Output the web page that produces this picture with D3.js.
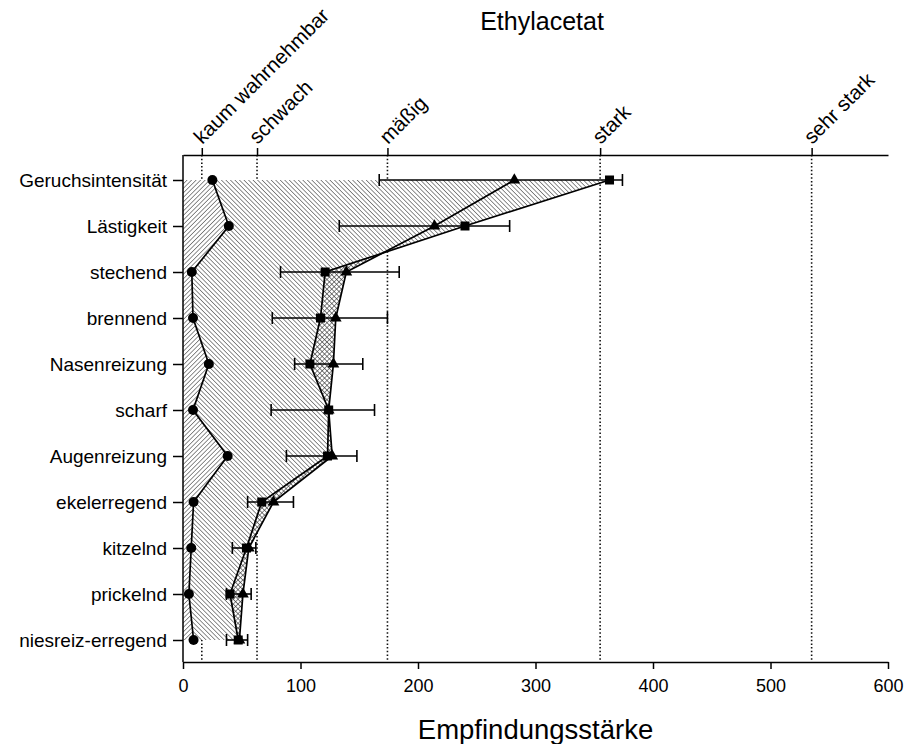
<!DOCTYPE html>
<html>
<head>
<meta charset="utf-8">
<script src="https://cdn.jsdelivr.net/npm/d3@7"></script>
<style>
  html, body { margin: 0; padding: 0; background: #fff; }
  svg { display: block; font-family: "Liberation Sans", Arial, Helvetica, sans-serif; }
</style>
</head>
<body>
<svg id="chart" width="906" height="744"></svg>
<script>
// ---- data ----
const categories = ["Geruchsintensität", "Lästigkeit", "stechend", "brennend", "Nasenreizung",
  "scharf", "Augenreizung", "ekelerregend", "kitzelnd", "prickelnd", "niesreiz-erregend"];
const circleSeries   = [25, 39, 7.5, 8.5, 22, 8.5, 38, 9, 7, 5, 9];
const squareSeries   = [363, 240, 121, 117, 108, 124, 123, 67, 54, 40, 47];
const triangleSeries = [282, 214, 139, 130, 128, 124, 127, 77, 56, 51, 48];
const errLow  = [167, 133, 83, 76, 95, 75, 88, 55, 42, 37, 37];
const errHigh = [374, 278, 184, 174, 153, 163, 148, 94, 62, 58, 55];
const refNames  = ["kaum wahrnehmbar", "schwach", "mäßig", "stark", "sehr stark"];
const refValues = [16, 63, 174, 355, 535];
const xTicks = [0, 100, 200, 300, 400, 500, 600];
const chartTitle = "Ethylacetat";
const xTitle = "Empfindungsstärke";

(function () {
// ---- layout ----
const svg = d3.select("#chart");
const pLeft = 183, pRight = 888, pTop = 155, pBottom = 662;
const x = d3.scaleLinear().domain([0, 600]).range([pLeft, pRight]);
const y = d3.scalePoint().domain(categories).range([180, 640]);

const rows = categories.map((c, i) => ({
  c, circ: circleSeries[i], sq: squareSeries[i], tri: triangleSeries[i],
  lo: errLow[i], hi: errHigh[i]
}));

// ---- patterns ----
const defs = svg.append("defs");
function hatch(id, angle, w, cross) {
  const p = defs.append("pattern").attr("id", id)
    .attr("patternUnits", "userSpaceOnUse")
    .attr("width", w).attr("height", w)
    .attr("patternTransform", `rotate(${angle})`);
  p.append("rect").attr("width", w).attr("height", w).attr("fill", "#fff");
  p.append("path").attr("d", cross ? `M0,0V${w}M0,0H${w}` : `M0,0V${w}`)
    .attr("stroke", "#333").attr("stroke-width", 1.1).attr("fill", "none");
}
hatch("hUp", 45, 3.2, false);
hatch("hDown", -45, 3.2, false);
hatch("hCross", 45, 3.4, true);

// ---- reference dotted lines ----
svg.append("g").selectAll("line").data(refValues).join("line")
  .attr("x1", d => x(d)).attr("x2", d => x(d))
  .attr("y1", pTop).attr("y2", pBottom)
  .attr("stroke", "#111").attr("stroke-width", 1.6)
  .attr("stroke-dasharray", "1.5,2.2");

// ---- areas ----
const areaA = d3.area().y(d => y(d.c)).x0(() => x(0)).x1(d => x(d.circ));
const areaB = d3.area().y(d => y(d.c)).x0(d => x(d.circ)).x1(d => x(d.sq));
const areaC = d3.area().y(d => y(d.c)).x0(d => x(d.sq)).x1(d => x(d.tri));
const clipArea = d3.area().y(d => y(d.c)).x0(d => x(d.sq)).x1(() => x(600));

defs.append("clipPath").attr("id", "rightOfSquare")
  .append("path").attr("d", clipArea(rows));

svg.append("path").attr("d", areaA(rows)).attr("fill", "url(#hUp)");
svg.append("path").attr("d", areaB(rows)).attr("fill", "url(#hDown)");
svg.append("path").attr("d", areaC(rows)).attr("fill", "url(#hCross)")
  .attr("clip-path", "url(#rightOfSquare)");

// ---- lines ----
const lineOf = key => d3.line().y(d => y(d.c)).x(d => x(d[key]));
["circ", "sq", "tri"].forEach(k => {
  svg.append("path").attr("d", lineOf(k)(rows))
    .attr("fill", "none").attr("stroke", "#000").attr("stroke-width", 1.7);
});

// ---- error bars ----
const eb = svg.append("g").attr("stroke", "#000").attr("stroke-width", 1.6);
eb.append("g").selectAll("line").data(rows).join("line")
  .attr("x1", d => x(d.lo)).attr("x2", d => x(d.hi))
  .attr("y1", d => y(d.c)).attr("y2", d => y(d.c));
eb.append("g").selectAll("line").data(rows).join("line")
  .attr("x1", d => x(d.lo)).attr("x2", d => x(d.lo))
  .attr("y1", d => y(d.c) - 6).attr("y2", d => y(d.c) + 6);
eb.append("g").selectAll("line").data(rows).join("line")
  .attr("x1", d => x(d.hi)).attr("x2", d => x(d.hi))
  .attr("y1", d => y(d.c) - 6).attr("y2", d => y(d.c) + 6);

// ---- markers ----
svg.append("g").selectAll("path").data(rows).join("path")
  .attr("d", d3.symbol(d3.symbolTriangle, 60))
  .attr("transform", d => `translate(${x(d.tri)},${y(d.c)})`).attr("fill", "#000");
svg.append("g").selectAll("rect").data(rows).join("rect")
  .attr("x", d => x(d.sq) - 4.5).attr("y", d => y(d.c) - 4.5)
  .attr("width", 9).attr("height", 9).attr("fill", "#000");
svg.append("g").selectAll("circle").data(rows).join("circle")
  .attr("cx", d => x(d.circ)).attr("cy", d => y(d.c)).attr("r", 5).attr("fill", "#000");

// ---- axes ----
const axL = svg.append("g").attr("transform", `translate(${pLeft},0)`)
  .call(d3.axisLeft(y).tickSize(10).tickPadding(6));
axL.select(".domain").remove();
axL.append("line").attr("x1", 0).attr("x2", 0).attr("y1", pTop).attr("y2", pBottom);

const axB = svg.append("g").attr("transform", `translate(0,${pBottom})`)
  .call(d3.axisBottom(x).tickValues(xTicks).tickSize(7).tickSizeOuter(0).tickPadding(10));

const axT = svg.append("g").attr("transform", `translate(0,${pTop})`)
  .call(d3.axisTop(x).tickValues(refValues).tickFormat((d, i) => refNames[i])
    .tickSize(7).tickSizeOuter(0));
axT.selectAll(".tick text")
  .attr("text-anchor", "start")
  .attr("transform", "translate(0,-10) rotate(-45)")
  .attr("dy", 0).attr("y", 0).attr("x", 0);

[axL, axB, axT].forEach(a => {
  a.attr("font-family", "'Liberation Sans', Arial, sans-serif");
  a.selectAll("text").attr("fill", "#000");
  a.selectAll("path, line").attr("stroke", "#000").attr("stroke-width", 1.5);
});
axL.attr("font-size", 19);
axB.attr("font-size", 18);
axT.attr("font-size", 20.5);

// ---- titles ----
svg.append("text").attr("x", 542).attr("y", 30).attr("text-anchor", "middle")
  .attr("font-size", 25).text(chartTitle);
svg.append("text").attr("x", (pLeft + pRight) / 2).attr("y", 739).attr("text-anchor", "middle")
  .attr("font-size", 27.5).text(xTitle);
})();
</script>
</body>
</html>
